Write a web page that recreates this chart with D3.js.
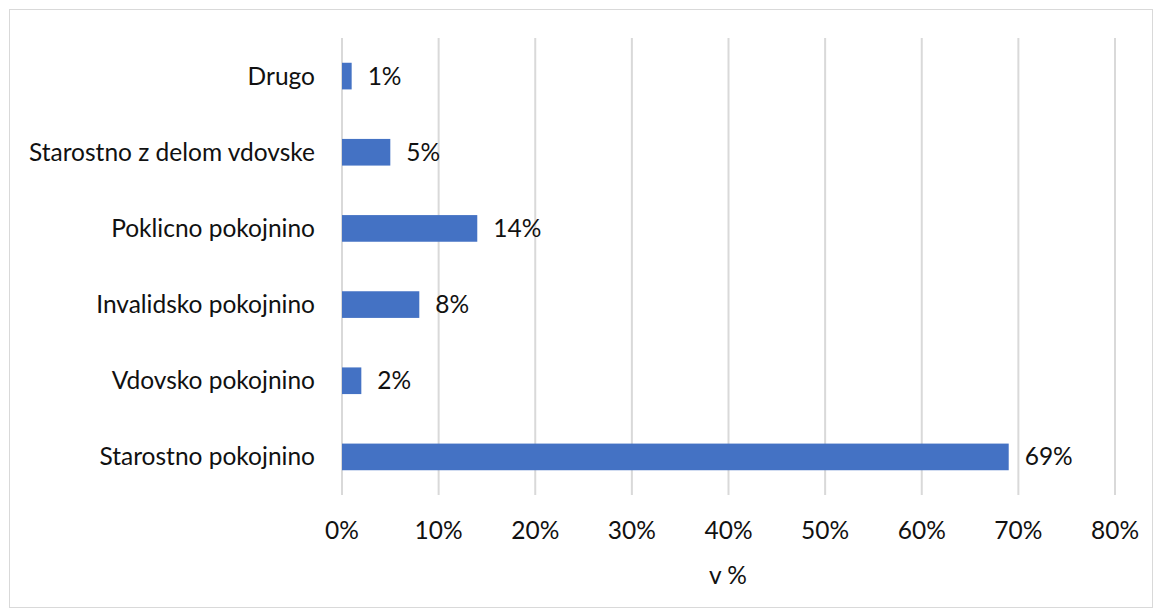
<!DOCTYPE html>
<html><head><meta charset="utf-8">
<script src="https://cdn.jsdelivr.net/npm/d3@7"></script>
<style>body{margin:0;background:#fff}svg{display:block}text{font-family:Lato,"Open Sans",sans-serif}</style>
</head><body><svg id="c" width="1154" height="609"></svg>
<script>
const categories = ["Drugo","Starostno z delom vdovske","Poklicno pokojnino","Invalidsko pokojnino","Vdovsko pokojnino","Starostno pokojnino"];
const values = [1,5,14,8,2,69];
const ticks = [0,10,20,30,40,50,60,70,80];
const axisTitle = "v %";
const fs = 24.5;

const svg = d3.select("#c");
svg.append("rect").attr("x",9.5).attr("y",9.5).attr("width",1143).attr("height",598)
  .attr("fill","#fff").attr("stroke","#d9d9d9");
const x = d3.scaleLinear().domain([0,80]).range([342,1115]);
const y = d3.scaleBand().domain(categories).range([38,495]).paddingInner(0.65).paddingOuter(0.325);

svg.append("g").selectAll("line").data(ticks).join("line")
  .attr("x1",d=>x(d)).attr("x2",d=>x(d)).attr("y1",38).attr("y2",495)
  .attr("stroke","#d9d9d9").attr("stroke-width",2);

svg.append("g").selectAll("rect").data(values).join("rect")
  .attr("x",x(0)).attr("y",(d,i)=>y(categories[i])).attr("width",d=>x(d)-x(0))
  .attr("height",y.bandwidth()).attr("fill","#4472C4");

svg.append("g").selectAll("text").data(values).join("text")
  .attr("x",d=>x(d)+16).attr("y",(d,i)=>y(categories[i])+y.bandwidth()/2)
  .attr("dy","0.35em").attr("font-size",fs).attr("fill","#111").text(d=>d+"%");

svg.append("g").selectAll("text").data(categories).join("text")
  .attr("x",315).attr("y",d=>y(d)+y.bandwidth()/2).attr("dy","0.35em")
  .attr("text-anchor","end").attr("font-size",fs).attr("fill","#111").text(d=>d);

svg.append("g").selectAll("text").data(ticks).join("text")
  .attr("x",d=>x(d)).attr("y",530).attr("dy","0.35em").attr("text-anchor","middle")
  .attr("font-size",fs).attr("fill","#111").text(d=>d+"%");

svg.append("text").attr("x",728).attr("y",575).attr("dy","0.35em").attr("text-anchor","middle")
  .attr("font-size",fs).attr("fill","#111").text(axisTitle);
</script></body></html>
